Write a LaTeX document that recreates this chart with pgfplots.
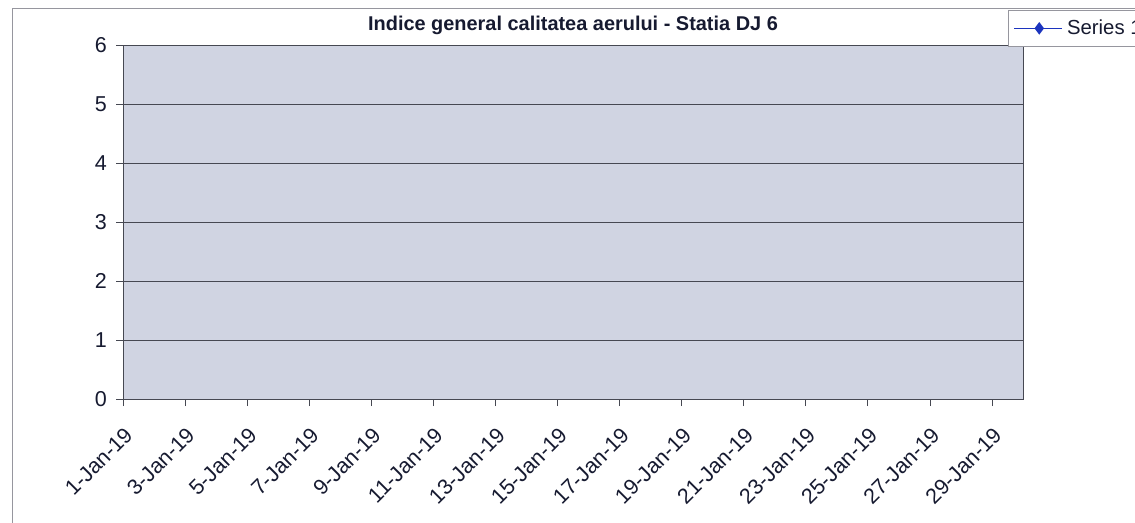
\documentclass[border=0pt]{standalone}
\usepackage{fontspec}
\setmainfont{Liberation Sans}
\usepackage{pgfplots}
\pgfplotsset{compat=1.18}
\definecolor{plotbg}{RGB}{208,212,226}
\definecolor{txt}{RGB}{22,26,48}
\definecolor{gridc}{RGB}{70,72,82}
\definecolor{ser}{RGB}{28,52,190}
\definecolor{frm}{RGB}{150,150,158}
\begin{document}
\begin{tikzpicture}
\path[use as bounding box] (0,0) rectangle (567.5bp,261.5bp);
\draw[frm, line width=0.5bp] (6bp,0) -- (6bp,257bp) -- (580bp,257bp);
\begin{axis}[
  at={(61.5bp,62bp)}, anchor=south west,
  scale only axis, width=450bp, height=177bp,
  xmin=0, xmax=29, ymin=0, ymax=6,
  xtick={0,2,...,28},
  xticklabels={1-Jan-19,3-Jan-19,5-Jan-19,7-Jan-19,9-Jan-19,11-Jan-19,13-Jan-19,15-Jan-19,17-Jan-19,19-Jan-19,21-Jan-19,23-Jan-19,25-Jan-19,27-Jan-19,29-Jan-19},
  ytick={0,1,...,6},
  xtick pos=left, ytick pos=left,
  tick align=outside,
  major tick length=3.5bp,
  tick style={gridc, line width=0.4bp},
  ymajorgrids,
  grid style={gridc, line width=0.5bp},
  axis line style={gridc, line width=0.5bp},
  axis background/.style={fill=plotbg},
  /pgf/number format/assume math mode=true,
  tick label style={font=\fontsize{10.8}{12}\selectfont, text=txt},
  xticklabel style={rotate=45, anchor=east, yshift=-11bp, xshift=-3.5bp},
  yticklabel style={xshift=-1bp},
  title={\bfseries Indice general calitatea aerului - Statia DJ 6},
  title style={at={(0.5,1)}, anchor=base, yshift=1.5bp, font=\fontsize{10}{12}\selectfont, text=txt},
  legend style={at={(0.9833,1.0989)}, anchor=north west, draw=frm, fill=white,
    font=\fontsize{10.2}{12}\selectfont, text=txt, inner sep=2.5bp, line width=0.5bp,
    nodes={inner xsep=2bp}},
  legend image code/.code={
    \draw[#1] (0bp,0bp) -- (24bp,0bp);
    \draw[#1, only marks] plot coordinates {(12.5bp,0bp)};
  },
  legend cell align=left,
]
\addlegendimage{ser, line width=0.8bp, mark=diamond*, mark size=2.5bp, mark options={fill=ser}}
\addlegendentry{Series 1}
\end{axis}
\end{tikzpicture}
\end{document}
